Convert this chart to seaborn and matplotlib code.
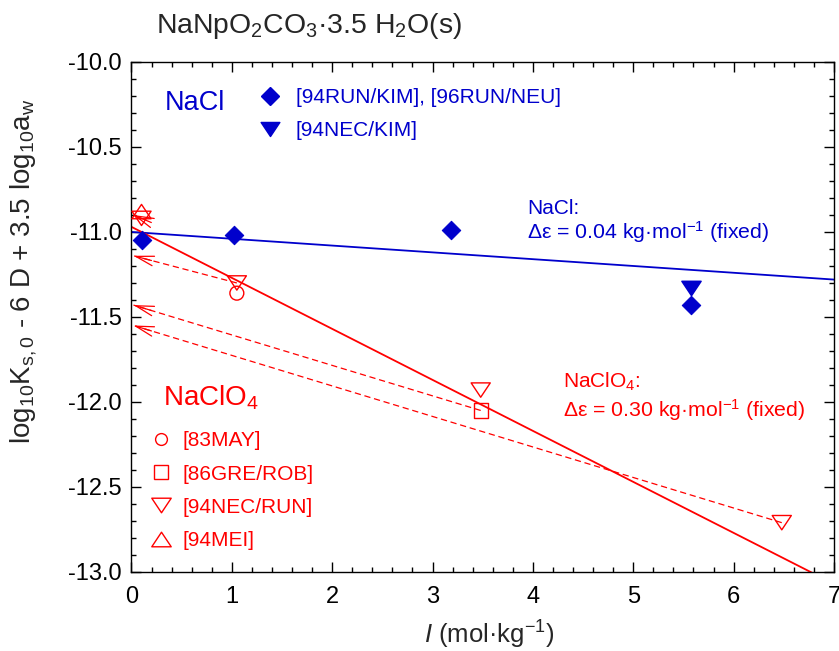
import numpy as np
import matplotlib
matplotlib.use("Agg")
import matplotlib.pyplot as plt
from matplotlib.lines import Line2D
from matplotlib.path import Path
from matplotlib.ticker import MultipleLocator, FormatStrFormatter
import seaborn as sns

# NaCl media (blue)
nacl_I_runkim = [0.1, 1.02, 3.18, 5.58]
nacl_y_runkim = [-11.05, -11.02, -10.99, -11.43]
nacl_I_neckim = [5.58]
nacl_y_neckim = [-11.33]

# NaClO4 media (red)
clo4_I_may = [1.05]
clo4_y_may = [-11.36]
clo4_I_gre = [3.48]
clo4_y_gre = [-12.05]
clo4_I_necrun = [0.1, 1.05, 3.48, 6.48]
clo4_y_necrun = [-10.92, -11.30, -11.93, -12.71]
clo4_I_mei = [0.1]
clo4_y_mei = [-10.88]

# extrapolations to I = 0 (dashed arrows)
arrow_I_from = [1.05, 3.48, 6.48, 0.1]
arrow_y_from = [-11.30, -12.05, -12.71, -10.92]
arrow_y_to = [-11.14, -11.43, -11.55, -10.90]

# SIT fits: (log10 K at I=0, delta epsilon)
nacl_fit = (-11.0, 0.04)
clo4_fit = (-10.97, 0.30)
fit_I = [0.0, 7.0]

BLUE = "#0000cc"
RED = "#ff0000"

# flat triangles (wider than tall), like the original symbols
TRI_DOWN = Path([(-1, 0.75), (1, 0.75), (0, -0.75), (-1, 0.75)], closed=True)
TRI_UP = Path([(-1, -0.75), (1, -0.75), (0, 0.75), (-1, -0.75)], closed=True)

sns.set_style("ticks")
plt.rcParams["font.family"] = ["Liberation Sans", "DejaVu Sans"]
plt.rcParams["mathtext.fontset"] = "custom"
plt.rcParams["mathtext.rm"] = "Liberation Sans"
plt.rcParams["mathtext.it"] = "Liberation Sans:italic"
plt.rcParams["axes.unicode_minus"] = False

fig = plt.figure(figsize=(8.39, 6.51), dpi=100)
ax = fig.add_axes([0.1567, 0.1214, 0.8373, 0.7834])

# fitted lines
for (k0, deps), col in [(nacl_fit, BLUE), (clo4_fit, RED)]:
    yy = [k0 - deps * i for i in fit_I]
    sns.lineplot(x=fit_I, y=yy, color=col, lw=1.3, ax=ax)

# extrapolation arrows
for i0, y0, y1 in zip(arrow_I_from, arrow_y_from, arrow_y_to):
    ax.plot([i0, 0.02], [y0, y1], ls=(0, (5, 3)), color=RED, lw=0.9)
    d = np.array([i0 - 0.02, y0 - y1])
    d = d / np.hypot(d[0], d[1] * 0.6) * 0.18
    ax.annotate("", xy=(0.02, y1), xytext=(0.02 + d[0], y1 + d[1]),
                arrowprops=dict(arrowstyle="->,head_length=1.3,head_width=0.35",
                                color=RED, lw=0.9, shrinkA=0, shrinkB=0,
                                mutation_scale=10))

# data points
sns.scatterplot(x=nacl_I_runkim, y=nacl_y_runkim, marker="D", s=88,
                color=BLUE, edgecolor=BLUE, ax=ax, zorder=5)
sns.scatterplot(x=nacl_I_neckim, y=nacl_y_neckim, marker=TRI_DOWN, s=190,
                color=BLUE, edgecolor=BLUE, ax=ax, zorder=5)
open_kw = dict(facecolors="none", edgecolor=RED, linewidth=1.0, ax=ax, zorder=5)
sns.scatterplot(x=clo4_I_may, y=clo4_y_may, marker="o", s=100, **open_kw)
sns.scatterplot(x=clo4_I_gre, y=clo4_y_gre, marker="s", s=105, **open_kw)
sns.scatterplot(x=clo4_I_necrun, y=clo4_y_necrun, marker=TRI_DOWN, s=190, **open_kw)
sns.scatterplot(x=clo4_I_mei, y=clo4_y_mei, marker=TRI_UP, s=190, **open_kw)

ax.set_xlim(0, 7)
ax.set_ylim(-13, -10)
ax.xaxis.set_major_locator(MultipleLocator(1))
ax.xaxis.set_minor_locator(MultipleLocator(0.2))
ax.yaxis.set_major_locator(MultipleLocator(0.5))
ax.yaxis.set_minor_locator(MultipleLocator(0.1))
ax.yaxis.set_major_formatter(FormatStrFormatter("%.1f"))
ax.tick_params(which="both", direction="in", top=True, right=True,
               width=1.0, colors="black", labelsize=17)
ax.tick_params(which="major", length=7)
ax.tick_params(which="minor", length=3.5)
ax.tick_params(axis="x", pad=10)
ax.tick_params(axis="y", pad=7)
for sp in ax.spines.values():
    sp.set_visible(True)
    sp.set_linewidth(1.0)
    sp.set_color("black")

# legends
h_nacl = [Line2D([], [], ls="none", marker="D", ms=9, color=BLUE),
          Line2D([], [], ls="none", marker=TRI_DOWN, ms=13.5, color=BLUE)]
leg1 = ax.legend(h_nacl, ["[94RUN/KIM], [96RUN/NEU]", "[94NEC/KIM]"],
                 loc="upper left", bbox_to_anchor=(0.182, 0.949), frameon=False,
                 fontsize=15, handlelength=1.0, handletextpad=0.75,
                 labelspacing=0.68, borderpad=0, borderaxespad=0,
                 labelcolor=BLUE)
ax.add_artist(leg1)
h_clo4 = [Line2D([], [], ls="none", marker=m, ms=ms, mfc="none", mec=RED, mew=1.0)
          for m, ms in [("o", 8.5), ("s", 10.5), (TRI_DOWN, 14), (TRI_UP, 14)]]
ax.legend(h_clo4, ["[83MAY]", "[86GRE/ROB]", "[94NEC/RUN]", "[94MEI]"],
          loc="upper left", bbox_to_anchor=(0.027, 0.2757), frameon=False,
          fontsize=15, handlelength=1.0, handletextpad=0.53,
          labelspacing=0.68, borderpad=0, borderaxespad=0, labelcolor=RED)

# labels
ax.text(0.048, 0.92, "NaCl", transform=ax.transAxes, color=BLUE,
        fontsize=19.5, va="center", ha="left")
ax.text(0.045, 0.327, "NaClO$_4$", transform=ax.transAxes, color=RED,
        fontsize=20, va="baseline", ha="left")
ax.text(3.94, -10.86, "NaCl:", color=BLUE, fontsize=15, va="center")
ax.text(3.94, -11.0, "Δε = 0.04 kg·mol$^{-1}$ (fixed)", color=BLUE,
        fontsize=15.3, va="center")
ax.text(4.30, -11.88, "NaClO$_4$:", color=RED, fontsize=15, va="center")
ax.text(4.30, -12.05, "Δε = 0.30 kg·mol$^{-1}$ (fixed)", color=RED,
        fontsize=15.3, va="center")

ax.set_xlabel("$I$ (mol·kg$^{-1}$)", fontsize=18.5, va="baseline")
ax.xaxis.set_label_coords(0.51, -0.14)
ax.set_ylabel("")
fig.text(24 / 839, 1 - 271 / 651,
         "log$_{10}$K$_{\\mathregular{s,0}}$ - 6 D + 3.5 log$_{10}$a$_{\\mathregular{w}}$",
         rotation=90, ha="center", va="center", fontsize=20)
fig.text(309 / 839, 1 - 33 / 651,
         "NaNpO$_2$CO$_3$·3.5 H$_2$O(s)", ha="center", va="baseline", fontsize=20.4)

fig.savefig("out.png", dpi=100)
